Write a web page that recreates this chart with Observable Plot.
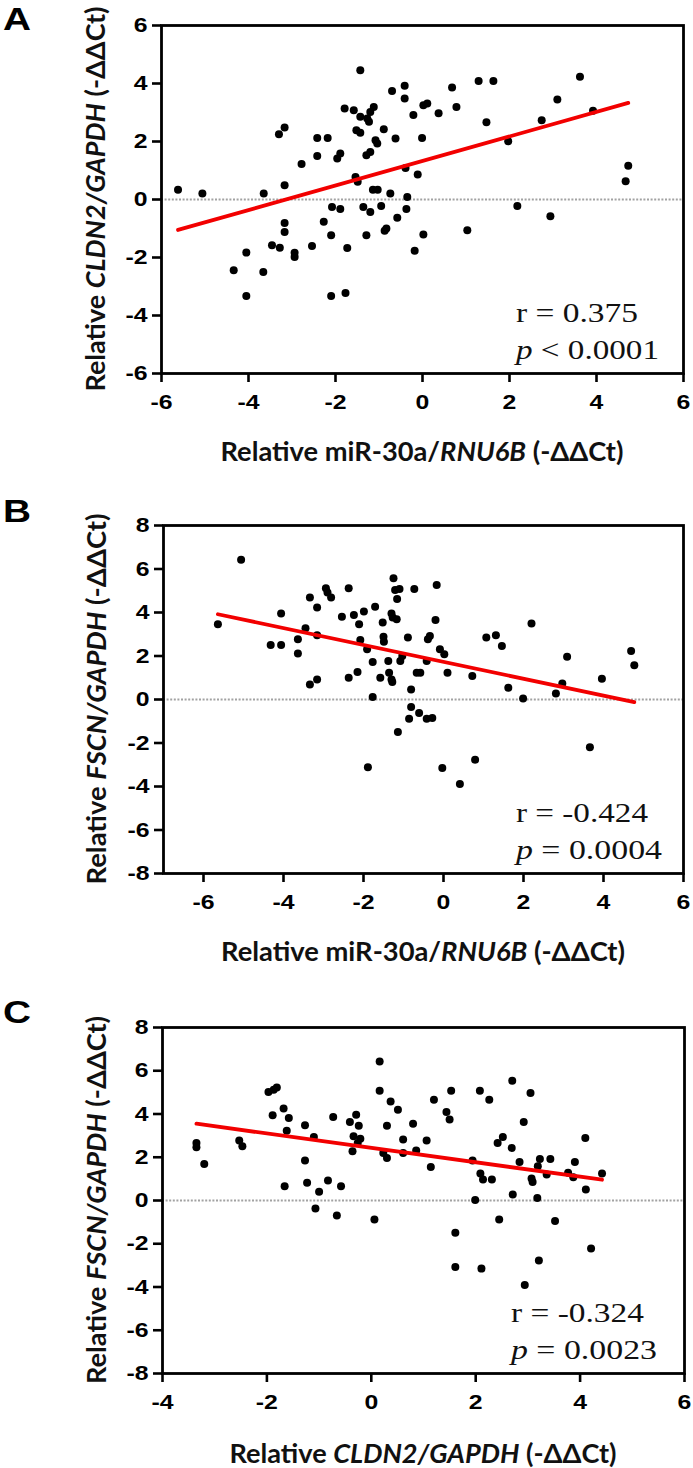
<!DOCTYPE html>
<html><head><meta charset="utf-8">
<script src="https://cdn.jsdelivr.net/npm/d3@7"></script>
<script src="https://cdn.jsdelivr.net/npm/@observablehq/plot@0.6"></script>
<style>
body{margin:0;background:#fff}
#chart{position:relative;width:693px;height:1468px;overflow:hidden;background:#fff}
</style>
</head><body><div id="chart"></div>
<script>
// ---------- Panel A: miR-30a vs CLDN2 ----------
const aMiR30a = [-5.62,-5.06,-3.65,-3.17,-3.30,-3.17,-3.17,-3.17,-3.46,-3.28,
 -2.94,-2.94,-4.05,-4.34,-3.66,-4.05,-2.78,-2.42,-2.18,-2.42,
 -1.89,-1.96,-2.54,-2.27,-2.10,-2.08,-1.89,-1.73,-2.10,-1.77,
 -1.79,-1.58,-1.43,-1.52,-1.43,-1.43,-1.27,-1.20,-1.12,-1.23,
 -1.08,-1.04,-1.20,-1.29,-1.54,-1.49,-1.14,-1.03,-1.36,-1.20,
 -1.29,-0.89,-0.95,-0.83,-0.87,-0.74,-0.70,-0.41,-0.41,-0.62,
 -0.35,-0.37,-0.58,-0.39,-0.21,-0.01,-0.11,0.02,-0.18,0.02,
 0.11,0.37,0.68,0.78,1.29,1.63,1.47,1.97,2.18,1.03,
 2.74,2.94,3.10,3.62,3.92,4.73,4.67];
const aCLDN2 = [0.34,0.21,0.21,0.49,2.25,2.48,-0.81,-1.12,-1.58,-1.66,
 -1.84,-1.98,-1.83,-2.44,-2.50,-3.33,1.22,2.12,2.12,1.50,
 1.59,1.41,-1.60,-0.77,-1.23,-0.26,-0.33,-1.67,-3.33,-3.22,
 3.14,3.08,4.46,2.39,2.30,2.85,2.79,3.02,3.19,2.68,
 2.04,1.93,1.64,1.53,0.78,0.61,0.34,0.34,-0.26,-0.43,
 -1.23,2.42,-0.22,-1.00,-1.08,0.21,3.74,3.92,3.48,2.10,
 0.09,-0.33,-0.63,1.09,2.91,2.12,0.86,-1.21,-1.77,3.25,
 3.31,2.97,3.86,3.19,4.09,4.09,2.66,2.01,-0.22,-1.06,
 2.73,-0.58,3.45,4.23,3.06,1.16,0.63];
const fitAx = [-5.62, 4.73];
const fitAy = [-1.05, 3.33];
const xTicksA = [-6,-4,-2,0,2,4,6];
const yTicksA = [-6,-4,-2,0,2,4,6];
const xDomainA = [-6, 6];
const yDomainA = [-6, 6];
const xLabelA = [["Relative miR-30a/", false], ["RNU6B", true], [" (-ΔΔCt)", false]];
const yLabelA = [["Relative ", false], ["CLDN2/GAPDH", true], [" (-ΔΔCt)", false]];
const statsA = ["r = 0.375", "< 0.0001"];

// ---------- Panel B: miR-30a vs FSCN ----------
const bMiR30a = [-5.64,-5.06,-4.32,-4.06,-4.06,-3.64,-3.64,-3.45,-3.34,-3.16,
 -3.16,-3.34,-3.16,-2.94,-2.90,-2.81,-2.54,-2.37,-2.37,-2.15,
 -2.24,-2.11,-2.08,-1.99,-1.91,-1.77,-1.71,-1.77,-1.89,-1.58,
 -1.52,-1.50,-1.49,-1.38,-1.36,-1.30,-1.28,-1.30,-1.27,-1.17,
 -1.25,-1.21,-1.10,-1.16,-1.08,-1.03,-1.14,-0.89,-0.81,-0.81,
 -0.86,-0.73,-0.67,-0.58,-0.61,-0.42,-0.28,-0.42,-0.39,-0.34,
 -0.20,-0.17,-0.09,0.02,0.10,-0.03,0.41,0.72,0.79,1.07,
 1.31,1.46,1.62,1.99,2.20,2.81,2.97,3.09,3.66,3.96,
 4.69,4.77];
const bFSCN = [3.46,6.43,2.51,2.51,3.95,2.77,2.12,3.28,4.69,4.23,
 2.95,0.69,0.92,5.11,4.92,4.69,3.80,5.11,1.00,1.26,
 3.88,3.46,2.74,4.05,2.31,1.72,4.26,0.12,-3.11,1.00,
 3.54,2.88,2.65,1.77,1.23,0.92,0.80,3.95,3.77,3.69,
 5.57,5.03,5.08,4.62,1.77,2.00,-1.49,2.85,0.46,-0.35,
 -0.89,5.08,1.23,1.23,-0.62,-0.89,-0.85,1.77,2.77,2.92,
 3.65,5.26,2.31,2.08,1.23,-3.15,-3.89,1.08,-2.77,2.85,
 2.95,2.46,0.54,0.05,3.49,0.28,0.74,1.97,-2.20,0.95,
 2.23,1.57];
const fitBx = [-5.64, 4.77];
const fitBy = [3.92, -0.12];
const xTicksB = [-6,-4,-2,0,2,4,6];
const yTicksB = [-8,-6,-4,-2,0,2,4,6,8];
const xDomainB = [-7, 6];
const yDomainB = [-8, 8];
const xLabelB = [["Relative miR-30a/", false], ["RNU6B", true], [" (-ΔΔCt)", false]];
const yLabelB = [["Relative ", false], ["FSCN/GAPDH", true], [" (-ΔΔCt)", false]];
const statsB = ["r = -0.424", "= 0.0004"];

// ---------- Panel C: CLDN2 vs FSCN ----------
const cCLDN2 = [-3.35,-3.35,-3.20,-2.53,-2.47,-1.97,-1.87,-1.81,-1.89,-1.68,
 -1.58,-1.62,-1.66,-1.27,-1.27,-1.23,-1.10,-1.00,-1.07,-0.83,
 -0.73,-0.58,-0.66,-0.41,-0.36,-0.34,-0.29,-0.24,-0.21,-0.26,
 0.06,0.16,0.16,0.23,0.30,0.30,0.37,0.51,0.61,0.61,
 0.80,0.86,1.06,1.14,1.20,1.44,1.50,1.53,1.61,1.61,
 1.94,1.99,2.08,2.09,2.14,2.26,2.31,2.11,2.42,2.52,
 2.45,2.70,2.69,2.71,2.84,2.92,2.94,3.05,3.07,3.09,
 3.18,3.21,3.19,3.23,3.36,3.43,3.52,3.77,3.87,3.90,
 4.11,4.10,4.21,4.42];
const cFSCN = [2.66,2.46,1.69,2.77,2.51,5.02,5.12,5.23,3.94,4.25,
 3.82,3.23,0.66,3.48,1.85,0.82,2.94,0.40,-0.37,0.92,
 3.86,0.66,-0.69,3.63,2.28,2.97,3.97,3.46,2.85,2.66,
 -0.88,6.43,5.08,2.20,1.97,3.46,4.58,4.20,2.82,2.20,
 3.55,2.31,2.77,1.55,4.66,4.09,3.74,5.08,-1.49,-3.08,
 1.85,0.02,5.08,1.25,0.97,4.66,0.97,-3.15,2.66,2.94,
 -0.88,5.54,2.43,0.28,1.78,3.63,-3.91,4.97,1.02,0.86,
 0.12,-2.77,1.58,1.92,1.20,1.92,-0.95,1.28,1.08,1.78,
 0.51,2.89,-2.22,1.25];
const fitCx = [-3.35, 4.42];
const fitCy = [3.55, 0.96];
const xTicksC = [-4,-2,0,2,4,6];
const yTicksC = [-8,-6,-4,-2,0,2,4,6,8];
const xDomainC = [-4, 6];
const yDomainC = [-8, 8];
const xLabelC = [["Relative ", false], ["CLDN2/GAPDH", true], [" (-ΔΔCt)", false]];
const yLabelC = [["Relative ", false], ["FSCN/GAPDH", true], [" (-ΔΔCt)", false]];
const statsC = ["r = -0.324", "= 0.0023"];

// ---------- layout ----------
const panels = [
  {id:"A", top:0, height:490, m:{top:25,right:10,bottom:117,left:161},
   xs:aMiR30a, ys:aCLDN2, fx:fitAx, fy:fitAy, xTicks:xTicksA, yTicks:yTicksA, xDomain:xDomainA, yDomain:yDomainA,
   xLabel:xLabelA, yLabel:yLabelA, stats:statsA,
   letterY:30, xLabelY:461, xLabelLen:403, yLabelX:105, yLabelLen:385, statDx:-167, statLen:[122,143]},
  {id:"B", top:490, height:490, m:{top:35,right:10,bottom:107,left:163},
   xs:bMiR30a, ys:bFSCN, fx:fitBx, fy:fitBy, xTicks:xTicksB, yTicks:yTicksB, xDomain:xDomainB, yDomain:yDomainB,
   xLabel:xLabelB, yLabel:yLabelB, stats:statsB,
   letterY:32, xLabelY:471, xLabelLen:404, yLabelX:106, yLabelLen:371, statDx:-167, statLen:[132,146]},
  {id:"C", top:980, height:488, m:{top:47,right:9,bottom:95,left:162},
   xs:cCLDN2, ys:cFSCN, fx:fitCx, fy:fitCy, xTicks:xTicksC, yTicks:yTicksC, xDomain:xDomainC, yDomain:yDomainC,
   xLabel:xLabelC, yLabel:yLabelC, stats:statsC,
   letterY:43, xLabelY:483, xLabelLen:387, yLabelX:106, yLabelLen:368, statDx:-173, statLen:[133,146]}
];

const W = 693;
const container = document.getElementById("chart");
const fmt = d => String(d);

function richText(sel, parts) {
  parts.forEach(([t, it]) => {
    sel.append("tspan").attr("font-style", it ? "italic" : "normal").text(t);
  });
}

panels.forEach(p => {
  const idx = d3.range(p.xs.length);
  const fidx = d3.range(p.fx.length);
  const svg = Plot.plot({
    width: W, height: p.height,
    marginTop: p.m.top, marginRight: p.m.right, marginBottom: p.m.bottom, marginLeft: p.m.left,
    style: {fontFamily: "'Liberation Sans', Arial, sans-serif", color: "#000", background: "transparent", overflow: "visible"},
    x: {domain: p.xDomain},
    y: {domain: p.yDomain},
    marks: [
      Plot.ruleY([0], {stroke: "#a2a2a2", strokeWidth: 2, strokeDasharray: "2,1.6"}),
      Plot.dot(idx, {x: p.xs, y: p.ys, r: 4, fill: "#000", stroke: "none"}),
      Plot.line(fidx, {x: p.fx, y: p.fy, stroke: "#f20000", strokeWidth: 3.8}),
      Plot.frame({stroke: "#000", strokeWidth: 2.8}),
      Plot.axisX({ticks: p.xTicks, tickFormat: fmt, tickSize: 9, tickPadding: 12, fontSize: 21, fontWeight: "bold", strokeWidth: 2.6, label: null}),
      Plot.axisY({ticks: p.yTicks, tickFormat: fmt, tickSize: 9, tickPadding: 5, fontSize: 21, fontWeight: "bold", strokeWidth: 2.6, label: null})
    ]
  });
  svg.style.position = "absolute";
  svg.style.left = "0px";
  svg.style.top = p.top + "px";
  container.appendChild(svg);

  const s = d3.select(svg);
  const left = p.m.left, right = W - p.m.right;
  const top = p.m.top, bottom = p.height - p.m.bottom;

  // tick label font; widen slightly (reference glyphs are horizontally stretched)
  s.selectAll('g[aria-label="x-axis tick label"], g[aria-label="y-axis tick label"]')
    .attr("font-size", 21).attr("font-weight", "bold")
    .style("font-size", "21px").style("font-weight", "bold");
  s.selectAll('g[aria-label="x-axis tick label"] text, g[aria-label="y-axis tick label"] text').each(function() {
    const L = this.getComputedTextLength();
    this.setAttribute("textLength", (L * 1.18).toFixed(1));
    this.setAttribute("lengthAdjust", "spacingAndGlyphs");
  });

  // panel letter
  s.append("text").attr("x", 3).attr("y", p.letterY)
    .attr("text-anchor", "start")
    .attr("font-family", "'Liberation Sans', Arial, sans-serif").attr("font-weight", "bold")
    .attr("font-size", 31).attr("fill", "#000")
    .attr("textLength", 28).attr("lengthAdjust", "spacingAndGlyphs")
    .text(p.id);

  // x axis label
  const xl = s.append("text").attr("x", (left + right) / 2).attr("y", p.xLabelY)
    .attr("text-anchor", "middle").attr("font-family", "Lato, 'Open Sans', sans-serif")
    .attr("font-weight", "bold").attr("font-size", 27).attr("fill", "#111")
    .attr("textLength", p.xLabelLen).attr("lengthAdjust", "spacingAndGlyphs");
  richText(xl, p.xLabel);

  // y axis label
  const yl = s.append("text")
    .attr("transform", `translate(${p.yLabelX},${(top + bottom) / 2}) rotate(-90)`)
    .attr("text-anchor", "middle").attr("font-family", "Lato, 'Open Sans', sans-serif")
    .attr("font-weight", "bold").attr("font-size", 27).attr("fill", "#111")
    .attr("textLength", p.yLabelLen).attr("lengthAdjust", "spacingAndGlyphs");
  richText(yl, p.yLabel);

  // statistics
  const sx = right + p.statDx;
  s.append("text").attr("x", sx).attr("y", bottom - 51).attr("text-anchor", "start")
    .attr("font-family", "'Liberation Serif', 'Times New Roman', serif").attr("font-size", 27).attr("fill", "#111")
    .attr("textLength", p.statLen[0]).attr("lengthAdjust", "spacingAndGlyphs")
    .text(p.stats[0]);
  const pt = s.append("text").attr("x", sx).attr("y", bottom - 14).attr("text-anchor", "start")
    .attr("font-family", "'Liberation Serif', 'Times New Roman', serif").attr("font-size", 27).attr("fill", "#111")
    .attr("textLength", p.statLen[1]).attr("lengthAdjust", "spacingAndGlyphs");
  richText(pt, [["p", true], [" " + p.stats[1], false]]);
});
</script>
</body></html>
